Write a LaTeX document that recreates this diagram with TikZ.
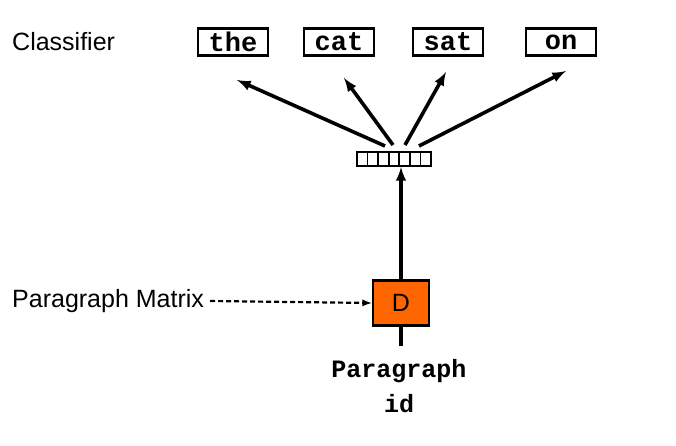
\documentclass[tikz,border=0pt]{standalone}
\usepackage{fontspec}
\setmainfont{Liberation Sans}
\setmonofont{Liberation Mono}
\usetikzlibrary{positioning}
\definecolor{dorange}{RGB}{255,102,0}
\begin{document}
\begin{tikzpicture}[x=1pt,y=-1pt,
  word/.style={draw,line width=2.6pt,minimum width=70pt,minimum height=27pt,inner sep=0pt,font=\ttfamily\bfseries\fontsize{27}{27}\selectfont},
  lbl/.style={font=\fontsize{25}{25}\selectfont},
  arr/.style={line width=3.6pt,-latex}]
\useasboundingbox (0,0) rectangle (676,446);
		\path (233,42) node(the)[word]{the}
		(339,42) node(cat)[word]{cat}
		(448,42) node(sat)[word]{sat}
		(561,42) node(on)[word]{on};
		\node[lbl,anchor=west,inner sep=0pt] (cls) at (12,42) {Classifier};
		\node[draw,line width=2.4pt,minimum width=74pt,minimum height=14pt,inner sep=0pt] (vec) at (394,159) {};
		\foreach \i in {1,...,6}
			\draw[line width=1.8pt] (357+\i*74/7,152) -- (357+\i*74/7,166);
		\node[draw,line width=2.6pt,fill=dorange,minimum width=56pt,minimum height=45pt,font=\fontsize{25}{25}\selectfont] (d) at (401,303) {D};
		\node[lbl,anchor=west,inner sep=0pt] (pm) at (12,301) {Paragraph Matrix};
		\node[font=\ttfamily\bfseries\fontsize{25}{25}\selectfont] (pid) at (399,371) {Paragraph};
		\node[font=\ttfamily\bfseries\fontsize{25}{25}\selectfont] (id) at (399,404) {id};
		\coordinate (dbot) at (401,346);
		\coordinate (vin) at (401,167);
		\draw[arr] (d.north) -- (vin);
		\draw[line width=3.6pt] (d.south) -- (dbot);
		\draw[line width=2.2pt,dash pattern=on 5pt off 3pt,-latex] ([xshift=6pt]pm.east) -- (d.west);
		\draw[arr] (385,146) -- (237,80);
		\draw[arr] (393,145) -- (344,78);
		\draw[arr] (405,145) -- (446,72);
		\draw[arr] (419,146) -- (566,71);
\end{tikzpicture}
\end{document}
